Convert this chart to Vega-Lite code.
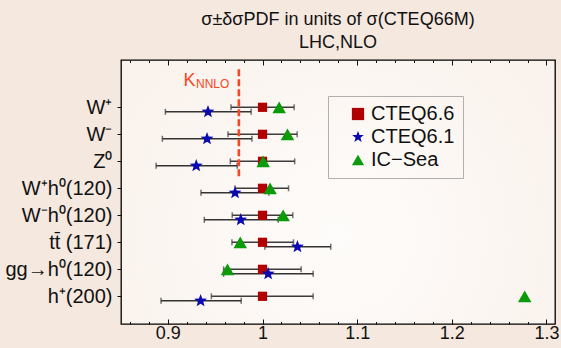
{
  "$schema": "https://vega.github.io/schema/vega-lite/v6.json",
  "width": 434,
  "height": 264,
  "autosize": {"type": "none"},
  "padding": {"left": 121, "top": 60, "right": 6, "bottom": 24},
  "background": "#f5e8df",
  "config": {
    "font": "Liberation Sans",
    "view": {
      "stroke": "#000000",
      "strokeWidth": 1.3,
      "fill": {"gradient": "radial", "x1": 0.5, "y1": 0.6, "r1": 0, "x2": 0.5, "y2": 0.6, "r2": 0.85,
        "stops": [{"offset": 0, "color": "#fefcfa"}, {"offset": 1, "color": "#f8eee7"}]}
    },
    "axis": {"grid": false, "domain": false, "title": null, "tickColor": "#111111", "labelColor": "#111111", "labelFont": "Liberation Sans"}
  },
  "title": {
    "text": ["σ±δσPDF in units of σ(CTEQ66M)", "LHC,NLO"],
    "font": "Liberation Sans",
    "fontSize": 18,
    "fontWeight": "normal",
    "color": "#111111",
    "lineHeight": 23,
    "offset": 8
  },
  "data": {
    "values": [
      {"process": "W⁺", "pdf": "CTEQ6.6", "value": 1.0, "lo": 0.9667, "hi": 1.0334},
      {"process": "W⁻", "pdf": "CTEQ6.6", "value": 1.0, "lo": 0.9635, "hi": 1.0366},
      {"process": "Z⁰", "pdf": "CTEQ6.6", "value": 1.0, "lo": 0.966, "hi": 1.034},
      {"process": "W⁺h⁰(120)", "pdf": "CTEQ6.6", "value": 1.0, "lo": 0.971, "hi": 1.0275},
      {"process": "W⁻h⁰(120)", "pdf": "CTEQ6.6", "value": 1.0, "lo": 0.968, "hi": 1.032},
      {"process": "tt̄ (171)", "pdf": "CTEQ6.6", "value": 1.0, "lo": 0.9677, "hi": 1.0327},
      {"process": "gg→h⁰(120)", "pdf": "CTEQ6.6", "value": 1.0, "lo": 0.9589, "hi": 1.0408},
      {"process": "h⁺(200)", "pdf": "CTEQ6.6", "value": 1.0, "lo": 0.946, "hi": 1.0535},
      {"process": "W⁺", "pdf": "CTEQ6.1", "value": 0.9424, "lo": 0.8974, "hi": 0.988},
      {"process": "W⁻", "pdf": "CTEQ6.1", "value": 0.9414, "lo": 0.8942, "hi": 0.9888},
      {"process": "Z⁰", "pdf": "CTEQ6.1", "value": 0.930, "lo": 0.8876, "hi": 0.9733},
      {"process": "W⁺h⁰(120)", "pdf": "CTEQ6.1", "value": 0.971, "lo": 0.935, "hi": 1.0067},
      {"process": "W⁻h⁰(120)", "pdf": "CTEQ6.1", "value": 0.977, "lo": 0.9385, "hi": 1.0166},
      {"process": "tt̄ (171)", "pdf": "CTEQ6.1", "value": 1.0369, "lo": 1.0025, "hi": 1.0721},
      {"process": "gg→h⁰(120)", "pdf": "CTEQ6.1", "value": 1.006, "lo": 0.9589, "hi": 1.0535},
      {"process": "h⁺(200)", "pdf": "CTEQ6.1", "value": 0.9346, "lo": 0.8928, "hi": 0.9775},
      {"process": "W⁺", "pdf": "IC−Sea", "value": 1.0176},
      {"process": "W⁻", "pdf": "IC−Sea", "value": 1.0264},
      {"process": "Z⁰", "pdf": "IC−Sea", "value": 1.0007},
      {"process": "W⁺h⁰(120)", "pdf": "IC−Sea", "value": 1.008},
      {"process": "W⁻h⁰(120)", "pdf": "IC−Sea", "value": 1.0218},
      {"process": "tt̄ (171)", "pdf": "IC−Sea", "value": 0.9765},
      {"process": "gg→h⁰(120)", "pdf": "IC−Sea", "value": 0.963},
      {"process": "h⁺(200)", "pdf": "IC−Sea", "value": 1.277}
    ]
  },
  "resolve": {"scale": {"y": "independent"}, "axis": {"x": "independent", "y": "independent"}},
  "layer": [
    {
      "resolve": {"axis": {"x": "independent"}},
      "layer": [
        {
          "transform": [{"filter": "datum.pdf === 'CTEQ6.6'"}],
          "mark": {"type": "rule", "color": "#3c3c3c", "strokeWidth": 1.6},
          "encoding": {
            "x": {"field": "lo", "type": "quantitative",
              "scale": {"domain": [0.8505, 1.309], "nice": false, "zero": false},
              "axis": {"orient": "bottom", "values": [0.9, 1.0, 1.1, 1.2, 1.3], "format": "~g", "tickSize": -5, "tickWidth": 1, "labelFontSize": 18, "labelPadding": 5, "title": null}},
            "x2": {"field": "hi"},
            "y": {"field": "process", "type": "nominal",
              "scale": {"type": "point", "domain": ["W⁺", "W⁻", "Z⁰", "W⁺h⁰(120)", "W⁻h⁰(120)", "tt̄ (171)", "gg→h⁰(120)", "h⁺(200)"], "range": [47.3, 236.3], "padding": 0},
              "axis": {"orient": "left", "tickSize": 4, "tickWidth": 1, "labelFontSize": 20, "labelPadding": 5, "title": null}}
          }
        },
        {
          "transform": [{"filter": "datum.pdf === 'CTEQ6.6'"}],
          "mark": {"type": "tick", "color": "#3c3c3c", "size": 6, "thickness": 1.5},
          "encoding": {
            "x": {"field": "lo", "type": "quantitative",
              "axis": {"orient": "bottom", "values": [0.86, 0.88, 0.9, 0.92, 0.94, 0.96, 0.98, 1.0, 1.02, 1.04, 1.06, 1.08, 1.1, 1.12, 1.14, 1.16, 1.18, 1.2, 1.22, 1.24, 1.26, 1.28, 1.3], "tickSize": -2.5, "tickWidth": 1, "labels": false, "title": null}},
            "y": {"field": "process", "type": "nominal"}
          }
        },
        {
          "transform": [{"filter": "datum.pdf === 'CTEQ6.6'"}],
          "mark": {"type": "tick", "color": "#3c3c3c", "size": 6, "thickness": 1.5},
          "encoding": {
            "x": {"field": "hi", "type": "quantitative",
              "axis": {"orient": "top", "values": [0.9, 1.0, 1.1, 1.2, 1.3], "tickSize": -5, "tickWidth": 1, "labels": false, "title": null}},
            "y": {"field": "process", "type": "nominal"}
          }
        },
        {
          "transform": [{"filter": "datum.pdf === 'CTEQ6.1'"}],
          "mark": {"type": "rule", "color": "#333333", "strokeWidth": 1.6, "yOffset": 4.5},
          "encoding": {
            "x": {"field": "lo", "type": "quantitative",
              "axis": {"orient": "top", "values": [0.86, 0.88, 0.9, 0.92, 0.94, 0.96, 0.98, 1.0, 1.02, 1.04, 1.06, 1.08, 1.1, 1.12, 1.14, 1.16, 1.18, 1.2, 1.22, 1.24, 1.26, 1.28, 1.3], "tickSize": -2.5, "tickWidth": 1, "labels": false, "title": null}},
            "x2": {"field": "hi"},
            "y": {"field": "process", "type": "nominal"}
          }
        },
        {
          "transform": [{"filter": "datum.pdf === 'CTEQ6.1'"}],
          "mark": {"type": "tick", "color": "#333333", "size": 6, "thickness": 1.5, "yOffset": 4.5},
          "encoding": {
            "x": {"field": "lo", "type": "quantitative", "axis": null},
            "y": {"field": "process", "type": "nominal"}
          }
        },
        {
          "transform": [{"filter": "datum.pdf === 'CTEQ6.1'"}],
          "mark": {"type": "tick", "color": "#333333", "size": 6, "thickness": 1.5, "yOffset": 4.5},
          "encoding": {
            "x": {"field": "hi", "type": "quantitative", "axis": null},
            "y": {"field": "process", "type": "nominal"}
          }
        },
        {
          "transform": [{"filter": "datum.pdf === 'CTEQ6.6'"}],
          "mark": {"type": "point", "filled": true, "opacity": 1, "strokeWidth": 0},
          "encoding": {
            "x": {"field": "value", "type": "quantitative", "axis": null},
            "y": {"field": "process", "type": "nominal"},
            "shape": {"field": "pdf", "type": "nominal",
              "scale": {"domain": ["CTEQ6.6", "CTEQ6.1", "IC−Sea"], "range": ["square", "M0,-1L0.247,-0.34L0.951,-0.309L0.4,0.13L0.588,0.809L0,0.42L-0.588,0.809L-0.4,0.13L-0.951,-0.309L-0.247,-0.34Z", "triangle-up"]},
              "legend": {"orient": "none", "legendX": 207, "legendY": 36, "title": null, "labelFont": "Liberation Sans", "labelFontSize": 20, "labelColor": "#111111", "strokeColor": "#b0b0b0", "padding": 8, "rowPadding": 3, "labelOffset": 3, "symbolOffset": 12, "symbolSize": 150}},
            "color": {"field": "pdf", "type": "nominal",
              "scale": {"domain": ["CTEQ6.6", "CTEQ6.1", "IC−Sea"], "range": ["#b00000", "#0a0ab0", "#0a9a0a"]}},
            "size": {"field": "pdf", "type": "nominal", "legend": null,
              "scale": {"type": "ordinal", "domain": ["CTEQ6.6", "CTEQ6.1", "IC−Sea"], "range": [85, 400, 110]}}
          }
        },
        {
          "transform": [{"filter": "datum.pdf === 'IC−Sea'"}],
          "mark": {"type": "point", "filled": true, "opacity": 1, "strokeWidth": 0},
          "encoding": {
            "x": {"field": "value", "type": "quantitative", "axis": null},
            "y": {"field": "process", "type": "nominal"},
            "shape": {"field": "pdf", "type": "nominal"},
            "color": {"field": "pdf", "type": "nominal"},
            "size": {"field": "pdf", "type": "nominal", "legend": null}
          }
        },
        {
          "transform": [{"filter": "datum.pdf === 'CTEQ6.1'"}],
          "mark": {"type": "point", "filled": true, "opacity": 1, "strokeWidth": 0, "yOffset": 4.5},
          "encoding": {
            "x": {"field": "value", "type": "quantitative", "axis": null},
            "y": {"field": "process", "type": "nominal"},
            "shape": {"field": "pdf", "type": "nominal"},
            "color": {"field": "pdf", "type": "nominal"},
            "size": {"field": "pdf", "type": "nominal", "legend": null}
          }
        }
      ]
    },
    {
      "layer": [
        {
          "data": {"values": [{"k": 0.975, "top": -0.407, "bottom": 3.62}]},
          "mark": {"type": "rule", "color": "#fa4621", "strokeWidth": 2.6, "strokeDash": [7, 3]},
          "encoding": {
            "x": {"field": "k", "type": "quantitative", "axis": null},
            "y": {"field": "top", "type": "quantitative", "axis": null,
              "scale": {"domain": [-0.752, 9.026], "reverse": true, "nice": false, "zero": false}},
            "y2": {"field": "bottom"}
          }
        },
        {
          "data": {"values": [{"t": "K", "x": 0.9166, "y": 0.21}]},
          "mark": {"type": "text", "fontSize": 18, "align": "left", "baseline": "alphabetic", "color": "#fa4621", "font": "Liberation Sans"},
          "encoding": {
            "x": {"field": "x", "type": "quantitative", "axis": null},
            "y": {"field": "y", "type": "quantitative", "axis": null},
            "text": {"field": "t"}
          }
        },
        {
          "data": {"values": [{"t": "NNLO", "x": 0.9297, "y": 0.267}]},
          "mark": {"type": "text", "fontSize": 12, "align": "left", "baseline": "alphabetic", "color": "#fa4621", "font": "Liberation Sans"},
          "encoding": {
            "x": {"field": "x", "type": "quantitative", "axis": null},
            "y": {"field": "y", "type": "quantitative", "axis": null},
            "text": {"field": "t"}
          }
        }
      ]
    }
  ]
}
